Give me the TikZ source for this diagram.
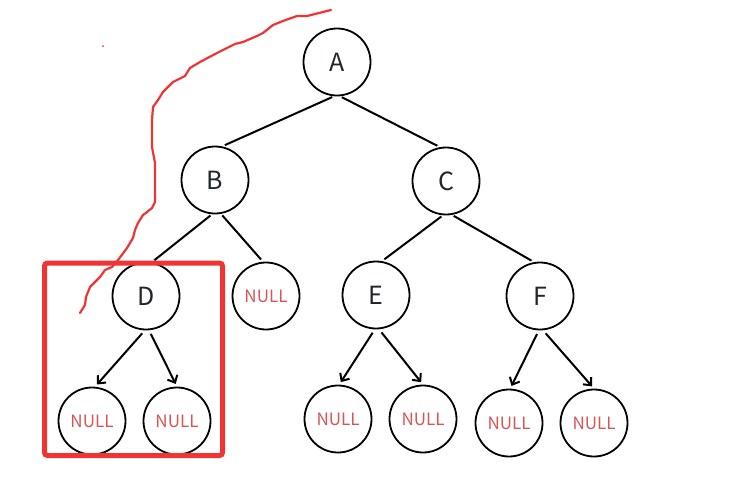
\documentclass[tikz,border=0pt]{standalone}
\usepackage{fontspec}
\newfontfamily\treefont{Noto Sans CJK SC}
\usetikzlibrary{arrows.meta}
\definecolor{nullred}{RGB}{214,86,86}
\definecolor{markred}{RGB}{240,52,52}
\definecolor{inkgray}{RGB}{34,38,44}

\begin{document}
\begin{tikzpicture}[x=1pt, y=-1pt, line width=2pt, >={Straight Barb[length=6pt, width=11pt]},
				tnode/.style={circle, draw=black, line width=1.8pt, minimum size=67pt, inner sep=0pt,
					font=\treefont\fontsize{25}{25}\selectfont, text=inkgray},
				nullnode/.style={tnode, minimum size=67pt, font=\treefont\fontsize{17}{17}\selectfont, text=nullred},
				link/.style={shorten <=2pt, shorten >=3pt},
				ptr/.style={->, shorten <=4pt, shorten >=3pt}]
				
				\useasboundingbox (0,0) rectangle (743,501);
				
				% --- 1. 结点 ---
				\node[tnode] (A) at (337,62) {A};
				\node[tnode] (B) at (215,180) {B};
				\node[tnode] (C) at (446,181) {C};
				\node[tnode] (D) at (146,296) {D};
				\node[nullnode] (Bn) at (266,296) {NULL};
				\node[tnode] (E) at (376,295) {E};
				\node[tnode] (F) at (540,296) {F};
				
				% 叶子下的空指针
				\node[nullnode] (Dl) at (92,421) {NULL};
				\node[nullnode] (Dr) at (177,421) {NULL};
				\node[nullnode] (El) at (338,419) {NULL};
				\node[nullnode] (Er) at (423,419) {NULL};
				\node[nullnode] (Fl) at (509,423) {NULL};
				\node[nullnode] (Fr) at (594,423) {NULL};
				
				% --- 2. 树枝 ---
				\draw[link] (A.265) -- (B.78);
				\draw[link] (A.275) -- (C.100);
				\draw[link] (B.265) -- (D.80);
				\draw[link] (B.280) -- (Bn.95);
				\draw[link] (C.265) -- (E.80);
				\draw[link] (C.280) -- (F.100);
				
				% --- 3. 指向 NULL 的箭头 ---
				\draw[ptr] (D.268) -- (Dl.85);
				\draw[ptr] (D.275) -- (Dr.north);
				\draw[ptr] (E.268) -- (El.88);
				\draw[ptr] (E.275) -- (Er.north);
				\draw[ptr] (F.268) -- (Fl.88);
				\draw[ptr] (F.275) -- (Fr.north);
				
				% --- 4. 红色标注 ---
				\draw[markred, line width=5pt, rounded corners=3pt] (44.5,263) rectangle (222.5,455.5);
				\draw[markred, line width=2.2pt, line join=round, line cap=round]
					(331,10) -- (307,16) -- (297,16) -- (283,21) -- (273,25) -- (263,33) -- (257,36)
					-- (243,42) -- (235,44) -- (217,53) -- (200,62) -- (190,68) -- (185,76) -- (173,82)
					-- (163,92) -- (158,100) -- (153,107) -- (152,120) -- (152,147) -- (155,163)
					-- (155,202) -- (152,208) -- (147,212) -- (143,215) -- (138,223) -- (135,230)
					-- (133,238) -- (127,248) -- (118,260) -- (112,267) -- (105,270) -- (100,277)
					-- (90,287) -- (86,297) -- (85,305) -- (80,313);
				\fill[markred] (103,46) circle (1pt);
				
			\end{tikzpicture}
\end{document}
